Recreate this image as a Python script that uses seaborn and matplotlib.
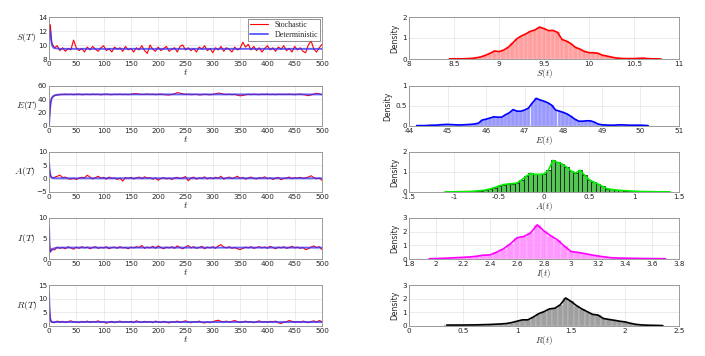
import numpy as np
import pandas as pd
import matplotlib
matplotlib.use("Agg")
import matplotlib.pyplot as plt
import seaborn as sns

sns.set_theme(style="white")
plt.rcParams['font.family'] = ['DejaVu Sans']
plt.rcParams['mathtext.fontset'] = 'cm'

# ---------------- data ----------------
# stochastic time grid (t = 0..4, then every 5 up to 500)
t_sto = list(range(0, 5)) + list(range(5, 501, 5))

S_sto = [10.8, 12.2, 12.9, 12.3, 11.0,
         10.3, 9.6, 9.9, 9.2, 9.6, 9.1, 9.5, 9.3, 10.7, 9.6,
         9.2, 9.5, 9.0, 9.7, 9.3, 9.8, 9.4, 9.1, 9.6, 9.9,
         9.2, 9.5, 9.0, 9.7, 9.4, 9.6, 9.1, 9.8, 9.3, 9.5,
         9.0, 9.6, 9.3, 9.9, 9.2, 8.8, 10.0, 9.4, 9.1, 9.7,
         9.2, 9.5, 9.8, 9.1, 9.4, 9.6, 9.0, 9.8, 10.0, 9.3,
         9.6, 9.2, 9.5, 9.0, 9.7, 9.4, 9.9, 9.2, 9.5, 8.9,
         9.6, 9.3, 9.8, 9.1, 9.6, 9.4, 9.0, 9.7, 9.3, 9.5,
         10.4, 9.7, 10.1, 9.3, 9.8, 9.2, 9.6, 9.0, 9.5, 9.9,
         9.3, 9.6, 9.1, 9.7, 9.4, 9.9, 9.2, 9.5, 9.0, 9.8,
         9.3, 9.6, 9.1, 8.9, 10.0, 10.6, 9.4, 9.0, 9.6, 10.1]

E_sto = [0.0, 14.0, 26.0, 34.0, 39.0,
         42.0, 45.5, 46.5, 47.0, 47.5, 47.8, 47.2, 47.6, 47.0, 47.5,
         47.8, 46.9, 47.3, 47.6, 47.0, 47.8, 47.3, 47.5, 46.8, 47.6,
         47.9, 47.2, 47.0, 47.6, 47.3, 47.8, 47.1, 47.5, 47.0, 47.7,
         48.3, 48.6, 47.8, 47.2, 47.5, 48.0, 47.3, 47.7, 47.0, 47.5,
         47.8, 47.2, 46.8, 46.5, 47.3, 48.4, 50.0, 49.3, 48.2, 47.5,
         47.8, 47.0, 47.3, 47.6, 46.6, 46.9, 47.5, 47.2, 46.8, 47.4,
         48.3, 49.4, 48.8, 47.6, 47.2, 47.7, 47.0, 47.5, 46.2, 45.3,
         45.8, 46.8, 47.5, 47.1, 47.7, 47.3, 47.0, 47.6, 47.3, 47.8,
         47.1, 47.5, 47.0, 47.7, 47.3, 47.6, 47.2, 47.8, 47.4, 47.0,
         47.5, 47.8, 47.2, 46.5, 45.5, 46.6, 47.8, 49.0, 48.3, 46.8]

A_sto = [6.0, 3.3, 1.8, 1.0, 0.6,
         0.3, 0.5, 0.9, 1.3, 0.4, 0.6, 0.0, -0.2, 0.1, -0.3,
         0.2, 0.5, 0.3, 1.3, 0.6, -0.1, 0.4, 0.9, 0.2, 0.5,
         -0.2, 0.6, 0.1, 0.3, -0.3, 0.2, -0.9, 0.4, 0.1, 0.5,
         -0.1, 0.3, 0.6, 0.0, 0.7, 0.2, 0.4, -0.2, 0.3, -0.6,
         0.1, 0.4, -0.1, 0.2, -0.3, 0.3, 0.5, 0.0, 0.3, 0.8,
         -0.8, 0.2, 0.6, -0.2, 0.3, 0.1, 0.7, -0.1, 0.4, 0.0,
         0.5, 0.2, 0.9, -0.2, 0.3, 0.6, 0.0, 0.4, 0.9, 0.1,
         0.5, -0.2, 0.3, 0.6, 0.1, -0.1, 0.4, 0.2, 0.7, 0.0,
         0.3, -0.3, 0.2, 0.5, -0.4, 0.1, 0.3, 0.6, 0.0, 0.4,
         0.2, 0.5, 0.1, 0.3, 0.6, 1.1, 0.4, 0.0, 0.2, -0.6]

I_sto = [8.0, 3.4, 1.7, 1.9, 2.3,
         2.5, 2.2, 2.9, 2.6, 2.8, 2.5, 3.0, 2.7, 2.4, 2.9,
         2.6, 3.0, 2.7, 2.9, 2.5, 2.8, 3.0, 2.6, 2.8, 2.7,
         3.0, 2.5, 2.8, 2.9, 2.6, 3.0, 2.7, 2.8, 2.5, 2.9,
         2.7, 3.0, 2.8, 3.3, 2.6, 2.9, 2.7, 3.1, 2.6, 3.2,
         2.8, 2.5, 2.9, 2.7, 3.0, 2.6, 3.2, 2.8, 2.5, 2.9,
         3.3, 2.7, 3.0, 2.6, 2.8, 3.1, 2.5, 2.9, 2.7, 3.0,
         2.6, 3.2, 3.5, 2.9, 2.7, 3.0, 2.6, 2.8, 2.5, 2.3,
         2.6, 2.9, 2.7, 3.0, 2.6, 2.8, 3.0, 2.7, 2.9, 2.6,
         3.1, 2.8, 2.5, 2.9, 2.7, 3.0, 2.6, 2.8, 3.1, 2.7,
         2.9, 2.6, 2.8, 2.3, 2.5, 2.9, 3.2, 2.8, 3.0, 2.3]

R_sto = [12.0, 6.2, 3.0, 2.0, 1.6,
         1.4, 1.2, 1.8, 1.4, 1.7, 1.3, 1.6, 1.9, 1.4, 1.5,
         1.2, 1.7, 1.4, 1.8, 1.3, 1.6, 1.5, 1.9, 1.3, 1.6,
         1.0, 1.4, 1.7, 1.2, 1.5, 1.8, 1.3, 1.6, 1.4, 1.7,
         1.2, 1.9, 1.5, 1.3, 1.7, 1.4, 1.6, 1.2, 1.8, 1.5,
         1.3, 1.7, 1.4, 1.1, 1.6, 1.4, 1.8, 1.3, 1.6, 1.9,
         1.4, 1.2, 1.6, 1.5, 1.8, 1.3, 1.1, 1.5, 1.2, 1.6,
         1.9, 2.1, 1.7, 1.5, 1.8, 1.4, 1.7, 2.0, 1.6, 1.3,
         1.5, 1.8, 1.4, 1.6, 1.2, 1.5, 1.9, 1.4, 1.6, 1.3,
         1.7, 1.5, 1.8, 1.2, 0.9, 1.4, 1.6, 2.0, 1.7, 1.4,
         1.6, 1.3, 1.8, 1.5, 1.2, 1.6, 1.9, 1.4, 2.0, 1.6]

# deterministic solutions
S_det_t = [0, 1, 2, 3, 4, 5, 6, 8, 10, 15, 20, 500]
S_det = [10.7, 11.8, 12.1, 11.6, 10.8, 10.2, 9.9, 9.65, 9.55, 9.5, 9.45, 9.45]
E_det_t = [0, 1, 2, 3, 5, 8, 12, 20, 40, 500]
E_det = [0.0, 15.0, 27.0, 35.0, 42.0, 45.0, 46.5, 47.2, 47.4, 47.4]
A_det_t = [0, 1, 2, 3, 5, 8, 15, 500]
A_det = [6.0, 3.5, 2.0, 1.0, 0.4, 0.2, 0.15, 0.15]
I_det_t = [0, 1, 2, 3, 5, 8, 12, 20, 500]
I_det = [8.0, 3.5, 1.8, 1.9, 2.2, 2.5, 2.7, 2.78, 2.78]
R_det_t = [0, 1, 2, 3, 5, 8, 12, 500]
R_det = [12.0, 6.0, 3.0, 2.0, 1.5, 1.45, 1.45, 1.45]

# histogram densities (bin centres, density)
S_bins = [8.45, 8.50, 8.55, 8.60, 8.65, 8.70, 8.75, 8.80, 8.85, 8.90, 8.95, 9.00,
          9.05, 9.10, 9.15, 9.20, 9.25, 9.30, 9.35, 9.40, 9.45, 9.50, 9.55, 9.60,
          9.65, 9.70, 9.75, 9.80, 9.85, 9.90, 9.95, 10.00, 10.05, 10.10, 10.15, 10.20,
          10.25, 10.30, 10.35, 10.40, 10.45, 10.50, 10.55, 10.60, 10.65, 10.70, 10.75, 10.80]
S_dens = [0.01, 0.01, 0.01, 0.01, 0.02, 0.03, 0.06, 0.10, 0.18, 0.27, 0.38, 0.35,
          0.42, 0.55, 0.75, 0.97, 1.10, 1.20, 1.32, 1.38, 1.52, 1.45, 1.35, 1.36,
          1.27, 0.93, 0.85, 0.73, 0.55, 0.47, 0.36, 0.30, 0.30, 0.27, 0.18, 0.14,
          0.09, 0.05, 0.03, 0.02, 0.02, 0.02, 0.03, 0.04, 0.02, 0.01, 0.01, 0.00]

E_bins = [44.2, 44.3, 44.4, 44.5, 44.6, 44.7, 44.8, 44.9, 45.0, 45.1, 45.2, 45.3,
          45.4, 45.5, 45.6, 45.7, 45.8, 45.9, 46.0, 46.1, 46.2, 46.3, 46.4, 46.5,
          46.6, 46.7, 46.8, 46.9, 47.0, 47.1, 47.2, 47.3, 47.4, 47.5, 47.6, 47.7,
          47.8, 47.9, 48.0, 48.1, 48.2, 48.3, 48.4, 48.5, 48.6, 48.7, 48.8, 48.9,
          49.0, 49.1, 49.2, 49.3, 49.4, 49.5, 49.6, 49.7, 49.8, 49.9, 50.0, 50.1, 50.2]
E_dens = [0.01, 0.01, 0.01, 0.015, 0.02, 0.02, 0.03, 0.035, 0.04, 0.035, 0.03, 0.025,
          0.03, 0.035, 0.04, 0.05, 0.07, 0.15, 0.17, 0.20, 0.23, 0.22, 0.22, 0.28,
          0.33, 0.41, 0.37, 0.37, 0.40, 0.45, 0.58, 0.69, 0.65, 0.62, 0.58, 0.52,
          0.40, 0.37, 0.34, 0.30, 0.24, 0.17, 0.12, 0.12, 0.13, 0.13, 0.10, 0.05,
          0.03, 0.025, 0.02, 0.02, 0.025, 0.03, 0.025, 0.02, 0.02, 0.02, 0.02, 0.015, 0.01]

A_bins = [-1.10, -1.05, -1.00, -0.95, -0.90, -0.85, -0.80, -0.75, -0.70, -0.65, -0.60,
          -0.55, -0.50, -0.45, -0.40, -0.35, -0.30, -0.25, -0.20, -0.15, -0.10, -0.05,
          0.00, 0.05, 0.10, 0.15, 0.20, 0.25, 0.30, 0.35, 0.40, 0.45, 0.50, 0.55,
          0.60, 0.65, 0.70, 0.75, 0.80, 0.85, 0.90, 0.95, 1.00, 1.05, 1.10, 1.15,
          1.20, 1.25, 1.30, 1.35, 1.40]
A_dens = [0.005, 0.01, 0.01, 0.015, 0.02, 0.025, 0.03, 0.05, 0.07, 0.10, 0.15,
          0.22, 0.30, 0.37, 0.40, 0.42, 0.45, 0.60, 0.78, 0.93, 0.88, 0.88,
          0.90, 1.10, 1.58, 1.48, 1.40, 1.25, 1.05, 0.95, 1.08, 0.85, 0.62, 0.50,
          0.40, 0.28, 0.17, 0.13, 0.10, 0.08, 0.07, 0.05, 0.04, 0.03, 0.02, 0.02,
          0.015, 0.01, 0.01, 0.01, 0.005]

I_bins = [1.95, 2.00, 2.05, 2.10, 2.15, 2.20, 2.25, 2.30, 2.35, 2.40, 2.45, 2.50,
          2.55, 2.60, 2.65, 2.70, 2.75, 2.80, 2.85, 2.90, 2.95, 3.00, 3.05, 3.10,
          3.15, 3.20, 3.25, 3.30, 3.35, 3.40, 3.45, 3.50, 3.55, 3.60, 3.65, 3.70]
I_dens = [0.02, 0.03, 0.05, 0.07, 0.10, 0.12, 0.15, 0.20, 0.28, 0.30, 0.50, 0.75,
          1.10, 1.55, 1.65, 1.90, 2.50, 2.05, 1.70, 1.40, 0.95, 0.55, 0.48, 0.40,
          0.30, 0.22, 0.15, 0.09, 0.07, 0.06, 0.05, 0.04, 0.035, 0.03, 0.025, 0.02]

R_bins = [0.35, 0.40, 0.45, 0.50, 0.55, 0.60, 0.65, 0.70, 0.75, 0.80, 0.85, 0.90,
          0.95, 1.00, 1.05, 1.10, 1.15, 1.20, 1.25, 1.30, 1.35, 1.40, 1.45, 1.50,
          1.55, 1.60, 1.65, 1.70, 1.75, 1.80, 1.85, 1.90, 1.95, 2.00, 2.05, 2.10,
          2.15, 2.20, 2.25, 2.30, 2.35]
R_dens = [0.07, 0.07, 0.07, 0.07, 0.08, 0.08, 0.09, 0.10, 0.11, 0.13, 0.15, 0.18,
          0.25, 0.35, 0.45, 0.45, 0.65, 0.90, 1.05, 1.25, 1.30, 1.55, 2.05, 1.80,
          1.50, 1.25, 1.05, 0.85, 0.80, 0.55, 0.48, 0.42, 0.35, 0.30, 0.20, 0.12,
          0.08, 0.06, 0.05, 0.04, 0.03]

left_labels = ["$S(T)$", "$E(T)$", "$A(T)$", "$I(T)$", "$R(T)$"]
right_labels = ["$S(t)$", "$E(t)$", "$A(t)$", "$I(t)$", "$R(t)$"]
left_yticks = [[8, 10, 12, 14], [0, 20, 40, 60], [-5, 0, 5, 10], [0, 5, 10], [0, 5, 10, 15]]
right_xticks = [[8, 8.5, 9, 9.5, 10, 10.5, 11],
                [44, 45, 46, 47, 48, 49, 50, 51],
                [-1.5, -1, -0.5, 0, 0.5, 1, 1.5],
                [1.8, 2, 2.2, 2.4, 2.6, 2.8, 3, 3.2, 3.4, 3.6, 3.8],
                [0, 0.5, 1, 1.5, 2, 2.5]]
right_yticks = [[0, 1, 2], [0, 0.5, 1], [0, 1, 2], [0, 1, 2, 3], [0, 1, 2, 3]]
x_tick_labels = [["8", "8.5", "9", "9.5", "10", "10.5", "11"],
                 ["44", "45", "46", "47", "48", "49", "50", "51"],
                 ["-1.5", "-1", "-0.5", "0", "0.5", "1", "1.5"],
                 ["1.8", "2", "2.2", "2.4", "2.6", "2.8", "3", "3.2", "3.4", "3.6", "3.8"],
                 ["0", "0.5", "1", "1.5", "2", "2.5"]]
y_tick_labels = [["0", "1", "2"], ["0", "0.5", "1"], ["0", "1", "2"],
                 ["0", "1", "2", "3"], ["0", "1", "2", "3"]]

sto = [S_sto, E_sto, A_sto, I_sto, R_sto]
det_t = [S_det_t, E_det_t, A_det_t, I_det_t, R_det_t]
det = [S_det, E_det, A_det, I_det, R_det]
hbins = [S_bins, E_bins, A_bins, I_bins, R_bins]
hdens = [S_dens, E_dens, A_dens, I_dens, R_dens]
hstep = [0.05, 0.1, 0.05, 0.05, 0.05]
fill_cols = ["#ff8080", "#8080ff", "#40c040", "#ff80ff", "#909090"]
fill_alpha = [0.75, 0.8, 0.9, 0.8, 0.85]
edge_cols = ["#ffd0d0", "#c8c8ff", "#202020", "#ffd0ff", "#d0d0d0"]
edge_lw = [0.3, 0.3, 0.6, 0.3, 0.3]
line_cols = ["#ff0000", "#0000ff", "#00ee00", "#ff00ff", "#000000"]

# ---------------- figure ----------------
fig = plt.figure(figsize=(7.05, 3.56), dpi=100)
rows_px = [(17, 59), (86, 126), (152, 192), (218, 259), (285, 326)]
H = 356.0
W = 705.0

def style_ax(ax):
    for sp in ax.spines.values():
        sp.set_color("#8c8c8c")
        sp.set_linewidth(0.6)
        sp.set_visible(True)
    ax.grid(True, color="#e3e3e3", lw=0.5)
    ax.set_axisbelow(True)
    ax.tick_params(axis="both", labelsize=5.2, direction="in", length=2,
                   width=0.5, color="#8c8c8c", pad=1.5, labelcolor="#262626")

for i in range(5):
    top, bot = rows_px[i]
    b = 1 - bot / H
    h = (bot - top) / H
    # left: time series
    axl = fig.add_axes([49 / W, b, (322 - 49) / W, h])
    dfs = pd.DataFrame({"t": t_sto, "v": sto[i]})
    dfd = pd.DataFrame({"t": det_t[i], "v": det[i]})
    sns.lineplot(data=dfs, x="t", y="v", ax=axl, color="red", lw=0.8,
                 label="Stochastic" if i == 0 else None, legend=False)
    sns.lineplot(data=dfd, x="t", y="v", ax=axl, color="#3030ff", lw=1.4, alpha=0.75,
                 label="Deterministic" if i == 0 else None, legend=False)
    axl.set_xlim(0, 500)
    axl.set_xticks(list(range(0, 501, 50)))
    axl.set_yticks(left_yticks[i])
    axl.set_ylim(left_yticks[i][0], left_yticks[i][-1])
    axl.set_xlabel("$t$", fontsize=7, labelpad=0)
    axl.set_ylabel(left_labels[i], fontsize=7, rotation=0, labelpad=8, va="center")
    style_ax(axl)
    if i == 0:
        leg = axl.legend(loc="upper right", frameon=True,
                         prop={"family": "Liberation Serif", "size": 5.8},
                         borderpad=0.3, labelspacing=0.2, handlelength=2.2,
                         borderaxespad=0.2, fancybox=False)
        leg.get_frame().set_edgecolor("#404040")
        leg.get_frame().set_linewidth(0.5)

    # right: histogram
    axr = fig.add_axes([409 / W, b, (679 - 409) / W, h])
    st = hstep[i]
    edges = [round(c - st / 2, 4) for c in hbins[i]] + [round(hbins[i][-1] + st / 2, 4)]
    dfh = pd.DataFrame({"x": hbins[i], "w": hdens[i]})
    sns.histplot(data=dfh, x="x", weights="w", bins=edges, ax=axr,
                 color=fill_cols[i], alpha=fill_alpha[i],
                 edgecolor=edge_cols[i], linewidth=edge_lw[i])
    sns.lineplot(data=dfh, x="x", y="w", ax=axr, color=line_cols[i], lw=1.2)
    axr.set_xticks(right_xticks[i])
    axr.set_xticklabels(x_tick_labels[i])
    axr.set_xlim(right_xticks[i][0], right_xticks[i][-1])
    axr.set_yticks(right_yticks[i])
    axr.set_yticklabels(y_tick_labels[i])
    axr.set_ylim(right_yticks[i][0], right_yticks[i][-1])
    axr.set_xlabel(right_labels[i], fontsize=6.5, labelpad=0)
    axr.set_ylabel("Density", fontsize=5.5, labelpad=2)
    style_ax(axr)

fig.savefig("out.png", dpi=100, facecolor="white")
